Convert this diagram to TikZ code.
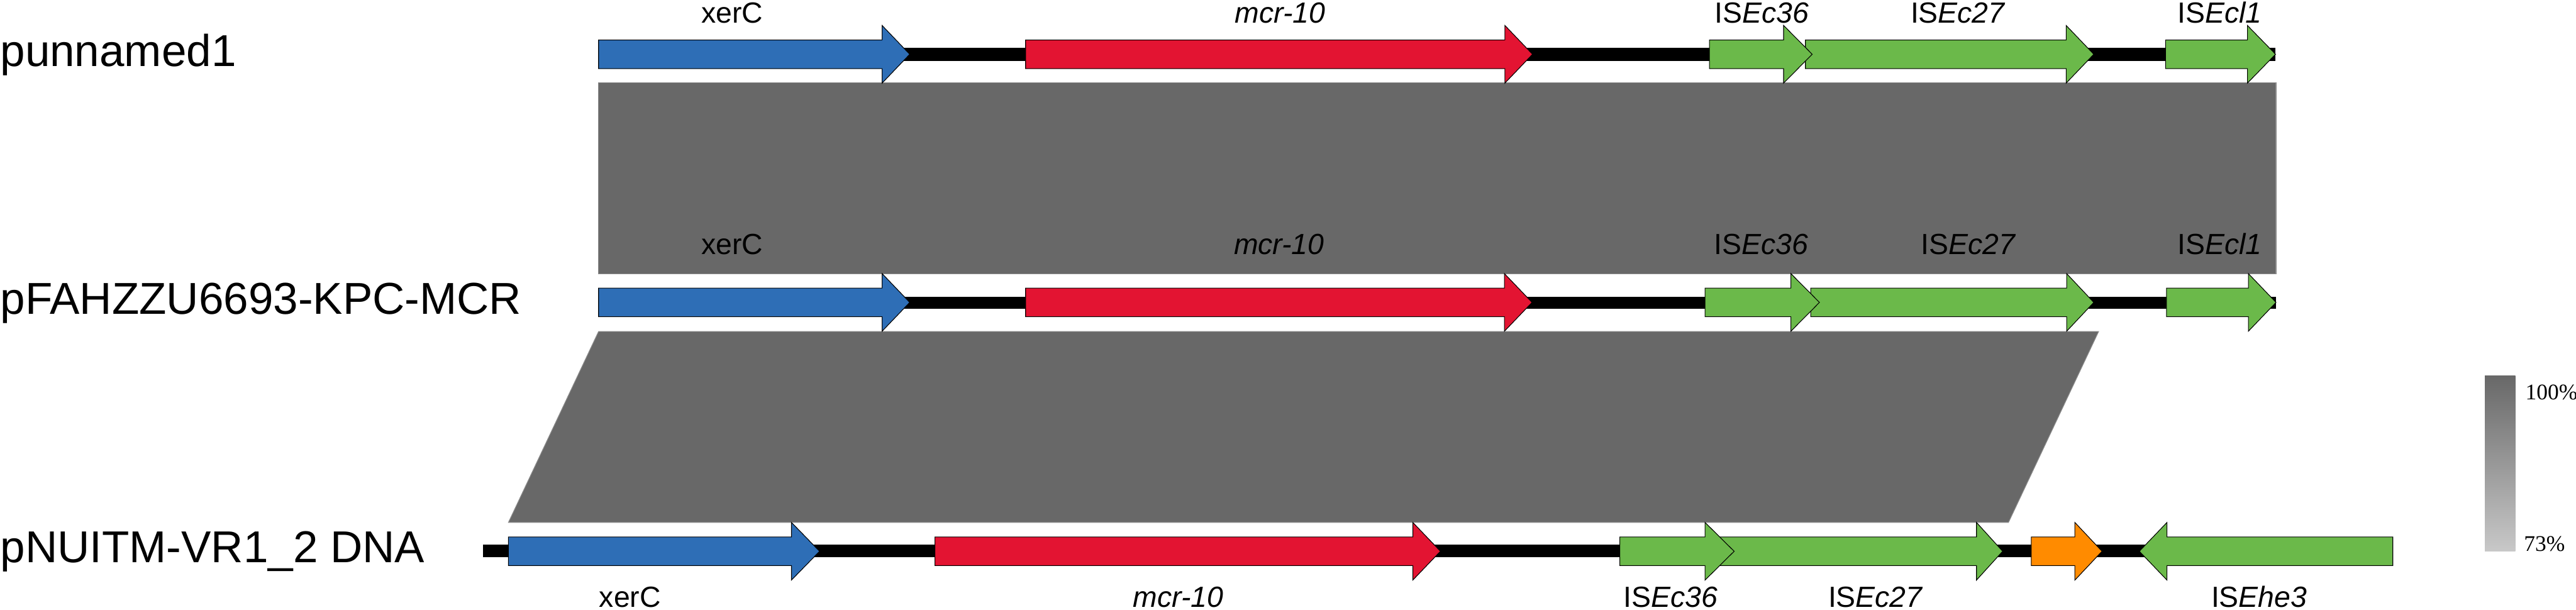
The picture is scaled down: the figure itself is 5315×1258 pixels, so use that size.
\documentclass[tikz,border=0pt]{standalone}
\usepackage{fontspec}
\setmainfont{Liberation Sans}
\newfontfamily\legendfont{Liberation Serif}
\definecolor{geneblue}{RGB}{46,110,182}
\definecolor{genered}{RGB}{227,20,50}
\definecolor{genegreen}{RGB}{107,185,74}
\definecolor{geneorange}{RGB}{255,139,0}
\definecolor{homgray}{RGB}{104,104,104}
\definecolor{homedge}{RGB}{140,140,140}
\definecolor{legtop}{RGB}{104,104,104}
\definecolor{legbot}{RGB}{200,200,200}
\tikzset{
  titletext/.style={anchor=base west, inner sep=0pt, font=\fontsize{26.2}{30}\selectfont},
  genelabel/.style={anchor=base, inner sep=0pt, font=\fontsize{17.1}{20}\selectfont},
  legendtext/.style={anchor=base west, inner sep=0pt, font=\legendfont\fontsize{13.1}{15}\selectfont},
  geneshape/.style={draw=black, line width=0.4pt, line join=miter},
  homblock/.style={fill=homgray, draw=homedge, line width=0.4pt},
  backbone/.style={fill=black},
}
\newcommand{\fwdgene}[5]{%
  \filldraw[geneshape, fill=#1] (#2,{#5-29.5}) -- (#3,{#5-29.5}) -- (#3,{#5-59.5}) -- (#4,#5) -- (#3,{#5+59.5}) -- (#3,{#5+29.5}) -- (#2,{#5+29.5}) -- cycle;}
\newcommand{\revgene}[5]{%
  \filldraw[geneshape, fill=#1] (#4,{#5-29.5}) -- (#3,{#5-29.5}) -- (#3,{#5-59.5}) -- (#2,#5) -- (#3,{#5+59.5}) -- (#3,{#5+29.5}) -- (#4,{#5+29.5}) -- cycle;}
\begin{document}
\begin{tikzpicture}[x=0.01cm, y=-0.01cm]
\useasboundingbox (0,0) rectangle (5315,1258);

% homology blocks
\filldraw[homblock] (1235,171) rectangle (4696,565);
\filldraw[homblock] (1235,684) -- (4330,684) -- (4144,1078) -- (1049,1078) -- cycle;

% backbones
\fill[backbone] (1235,99) rectangle (4695,126);
\fill[backbone] (1235,612) rectangle (4696,637);
\fill[backbone] (996,1124) rectangle (4937,1150);

% row 1 genes
\fwdgene{geneblue}{1235}{1820}{1877}{112}
\fwdgene{genered}{2116}{3105}{3162}{112}
\fwdgene{genegreen}{3725}{4263}{4320}{112}
\fwdgene{genegreen}{3527}{3680}{3739}{112}
\fwdgene{genegreen}{4468}{4637}{4695}{112}

% row 2 genes
\fwdgene{geneblue}{1235}{1820}{1877}{624}
\fwdgene{genered}{2116}{3104}{3161}{624}
\fwdgene{genegreen}{3736}{4264}{4320}{624}
\fwdgene{genegreen}{3518}{3695}{3754}{624}
\fwdgene{genegreen}{4470}{4639}{4696}{624}

% row 3 genes
\fwdgene{geneblue}{1049}{1633}{1691}{1137.5}
\fwdgene{genered}{1929}{2915}{2972}{1137.5}
\fwdgene{genegreen}{3547}{4078}{4132}{1137.5}
\fwdgene{genegreen}{3342}{3518}{3578}{1137.5}
\fwdgene{geneorange}{4191}{4281}{4337}{1137.5}
\revgene{genegreen}{4414}{4471}{4937}{1137.5}

% sequence titles
\node[titletext] (t1) at (0,137) {punnamed1};
\node[titletext] (t2) at (0,648) {pFAHZZU6693-KPC-MCR};
\node[titletext] (t3) at (0,1161) {pNUITM-VR1\_2 DNA};

% row 1 labels
\node[genelabel] (l1a) at (1511,47) {xerC};
\node[genelabel] (l1b) at (2641,47) {\textit{mcr-10}};
\node[genelabel] (l1c) at (3635,47) {IS\textit{Ec36}};
\node[genelabel] (l1d) at (4040,47) {IS\textit{Ec27}};
\node[genelabel] (l1e) at (4580,47) {IS\textit{Ecl1}};

% row 2 labels
\node[genelabel] (l2a) at (1511,525) {xerC};
\node[genelabel] (l2b) at (2639,525) {\textit{mcr-10}};
\node[genelabel] (l2c) at (3634,525) {IS\textit{Ec36}};
\node[genelabel] (l2d) at (4062,525) {IS\textit{Ec27}};
\node[genelabel] (l2e) at (4580,525) {IS\textit{Ecl1}};

% row 3 labels
\node[genelabel] (l3a) at (1300,1253) {xerC};
\node[genelabel] (l3b) at (2431,1253) {\textit{mcr-10}};
\node[genelabel] (l3c) at (3447,1253) {IS\textit{Ec36}};
\node[genelabel] (l3d) at (3870,1253) {IS\textit{Ec27}};
\node[genelabel] (l3e) at (4661,1253) {IS\textit{Ehe3}};

% legend
\shade[top color=legtop, bottom color=legbot] (5127,775) rectangle (5190,1137);
\node[legendtext] (leg100) at (5210,825) {100\%};
\node[legendtext] (leg73) at (5207,1137) {73\%};
\end{tikzpicture}
\end{document}
